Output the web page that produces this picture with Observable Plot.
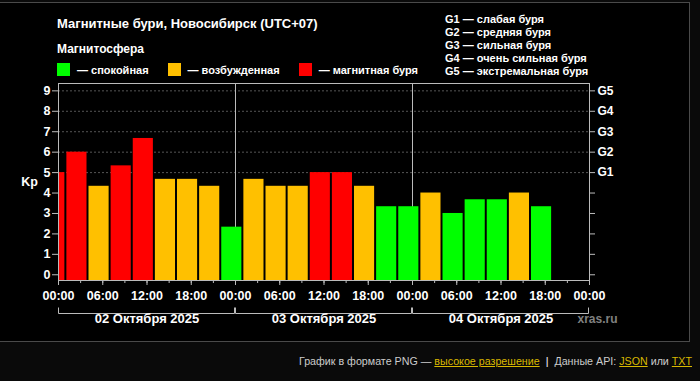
<!DOCTYPE html>
<html><head><meta charset="utf-8">
<script src="https://cdn.jsdelivr.net/npm/d3@7"></script>
<script src="https://cdn.jsdelivr.net/npm/@observablehq/plot@0.6"></script>
<style>
html,body{margin:0;padding:0;background:#0a0a0a;}
#wrap{position:relative;width:700px;height:381px;overflow:hidden;font-family:"Liberation Sans",Arial,sans-serif;color:#fff;}
#box{position:absolute;left:-1px;top:2px;width:691px;height:340px;box-sizing:border-box;border:1px solid #4a4a4a;background:#000;}
#title{position:absolute;left:57px;top:15.5px;font-size:13px;line-height:16px;font-weight:bold;white-space:nowrap}
#sub{position:absolute;left:57px;top:42.3px;font-size:12px;line-height:14px;font-weight:bold;white-space:nowrap}
#legend{position:absolute;left:57px;top:63px;height:13px;display:flex;align-items:center;font-size:11px;font-weight:bold;white-space:nowrap}
.item{display:flex;align-items:center;margin-right:19px}
.sw{width:13px;height:13px;margin-right:7px}
#glegend{position:absolute;left:445px;top:12.9px;font-size:11px;line-height:13.1px;font-weight:bold;white-space:nowrap}
#chart{position:absolute;left:0;top:0}
#footer{position:absolute;right:8px;top:354.5px;font-size:10.7px;line-height:13px;color:#ccc;white-space:nowrap}
#footer a{color:#d9b800;text-decoration:underline}
#footer .sep{color:#fff;margin:0 6px}
</style>
</head>
<body>
<div id="wrap">
  <div id="box"></div>
  <div id="chart"></div>
  <div id="title"></div>
  <div id="sub"></div>
  <div id="legend"></div>
  <div id="glegend"></div>
  <div id="footer">График в формате PNG — <a href="#">высокое разрешение</a><span class="sep">|</span>Данные API: <a href="#">JSON</a> или <a href="#">TXT</a></div>
</div>
<script>
// ---- data ----
const titleText = "Магнитные бури, Новосибирск (UTC+07)";
const subtitleText = "Магнитосфера";
const legendLabels = ["спокойная", "возбужденная", "магнитная буря"];
const stateColors = ["#00ff00", "#ffc000", "#ff0000"];
const gLevels = ["G1", "G2", "G3", "G4", "G5"];
const gNames = ["слабая буря", "средняя буря", "сильная буря", "очень сильная буря", "экстремальная буря"];
const gKp = [5, 6, 7, 8, 9];
const yTicks = [0, 1, 2, 3, 4, 5, 6, 7, 8, 9];
const starts = [
  "2025-10-01T22:00",
  "2025-10-02T01:00", "2025-10-02T04:00", "2025-10-02T07:00", "2025-10-02T10:00",
  "2025-10-02T13:00", "2025-10-02T16:00", "2025-10-02T19:00", "2025-10-02T22:00",
  "2025-10-03T01:00", "2025-10-03T04:00", "2025-10-03T07:00", "2025-10-03T10:00",
  "2025-10-03T13:00", "2025-10-03T16:00", "2025-10-03T19:00", "2025-10-03T22:00",
  "2025-10-04T01:00", "2025-10-04T04:00", "2025-10-04T07:00", "2025-10-04T10:00",
  "2025-10-04T13:00", "2025-10-04T16:00"
];
const kp = [
  5,
  6, 4.33, 5.33, 6.67, 4.67, 4.67, 4.33, 2.33,
  4.67, 4.33, 4.33, 5, 5, 4.33, 3.33, 3.33,
  4, 3, 3.67, 3.67, 4, 3.33
];
const days = ["2025-10-02", "2025-10-03", "2025-10-04"];
const dayLabels = ["02 Октября 2025", "03 Октября 2025", "04 Октября 2025"];
const sourceText = "xras.ru";

// ---- html parts ----
document.getElementById("title").textContent = titleText;
document.getElementById("sub").textContent = subtitleText;
const leg = d3.select("#legend");
legendLabels.forEach((l, i) => {
  const it = leg.append("div").attr("class", "item");
  it.append("div").attr("class", "sw").style("background", stateColors[i]);
  it.append("span").text("— " + l);
});
const gl = d3.select("#glegend");
gLevels.forEach((g, i) => gl.append("div").text(g + " — " + gNames[i]));

// ---- chart ----
const parseT = d3.utcParse("%Y-%m-%dT%H:%M");
const parseD = d3.utcParse("%Y-%m-%d");
const bars = starts.map((s, i) => ({start: parseT(s), end: d3.utcHour.offset(parseT(s), 3), kp: kp[i]}));
const dayStart = days.map(parseD);
const dayEnd = dayStart.map(d => d3.utcDay.offset(d, 1));
const dayInfo = days.map((d, i) => ({mid: new Date((+dayStart[i] + +dayEnd[i]) / 2), label: dayLabels[i]}));
const xDomain = [dayStart[0], dayEnd[dayEnd.length - 1]];
const majorTicks = d3.utcHour.every(6).range(xDomain[0], d3.utcHour.offset(xDomain[1], 1));
const minorTicks = d3.utcHour.every(3).range(xDomain[0], d3.utcHour.offset(xDomain[1], 1));
const yMin = -0.28;
const FONT = "Liberation Sans, Arial, sans-serif";

const chart = Plot.plot({
  width: 700, height: 381,
  marginLeft: 58, marginRight: 111, marginTop: 83, marginBottom: 101,
  style: {background: "transparent", color: "#fff", fontFamily: FONT, fontWeight: "bold", fontSize: "12px", overflow: "visible"},
  x: {type: "utc", domain: xDomain},
  y: {domain: [yMin, 9.36]},
  color: {type: "threshold", domain: [4, 5], range: stateColors},
  marks: [
    Plot.ruleY(gKp, {stroke: "#555", strokeDasharray: "2,2"}),
    Plot.ruleX(dayStart.slice(1), {stroke: "#bbb"}),
    Plot.rectY(bars, {x1: "start", x2: "end", y1: yMin, y2: "kp", fill: "kp", insetLeft: 1, insetRight: 1, clip: true}),
    Plot.frame({stroke: "#bbb"}),
    Plot.axisY({anchor: "left", ticks: yTicks, tickSize: 6, tickPadding: 2, stroke: "#bbb", fill: "#fff", label: null, fontSize: 12.5, fontWeight: "bold"}),
    Plot.axisY({anchor: "right", ticks: yTicks, tickSize: 5, tickPadding: 3, stroke: "#bbb", fill: "#fff", label: null, fontSize: 12, fontWeight: "bold",
      tickFormat: d => d >= 5 ? gLevels[d - 5] : ""}),
    Plot.axisX({ticks: minorTicks, tickSize: 3, stroke: "#bbb", tickFormat: () => "", label: null}),
    Plot.axisX({ticks: majorTicks, tickSize: 5, tickPadding: 6, stroke: "#bbb", fill: "#fff", label: null, fontSize: 12.5, fontWeight: "bold",
      tickFormat: d3.utcFormat("%H:%M")}),
    Plot.text(["Kp"], {frameAnchor: "left", textAnchor: "middle", dx: -29, fill: "#fff", fontSize: 12.5, fontWeight: "bold"}),
    (index, scales, values, dims) => {
      const g = d3.create("svg:g").attr("stroke", "#bbb").attr("fill", "none");
      const yb = dims.height - dims.marginBottom + 33.5;
      dayStart.forEach((d, i) => {
        const x1 = Math.round(scales.x(d)) + 0.5, x2 = Math.round(scales.x(dayEnd[i])) - 0.5;
        g.append("path").attr("d", `M${x1},${yb - 6}V${yb}H${x2}V${yb - 6}`);
      });
      return g.node();
    },
    Plot.text(dayInfo, {x: "mid", text: "label", frameAnchor: "bottom", dy: 42, fill: "#fff", fontSize: 13, fontWeight: "bold"}),
    Plot.text([sourceText], {frameAnchor: "bottom-right", textAnchor: "start", dx: -12, dy: 42, fill: "#808080", fontSize: 12, fontWeight: "bold"})
  ]
});
document.getElementById("chart").appendChild(chart);
</script>
</body></html>
